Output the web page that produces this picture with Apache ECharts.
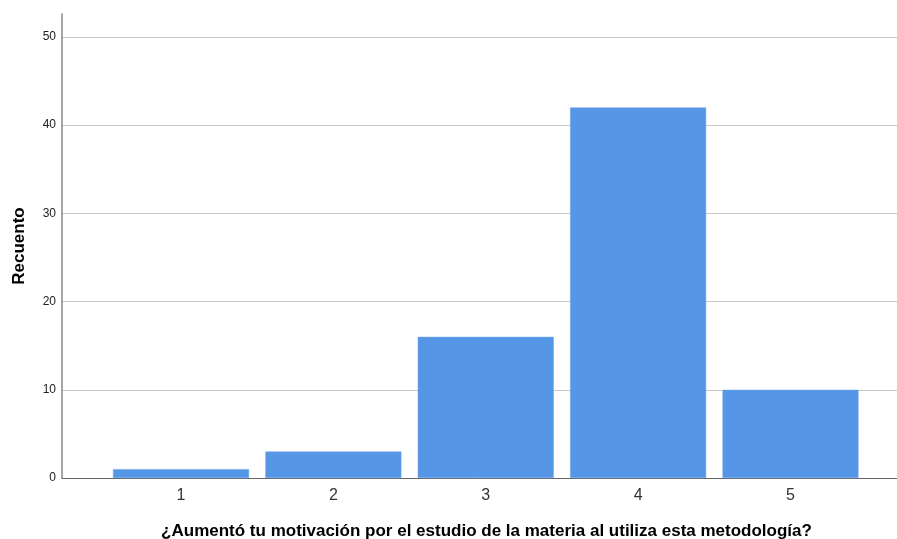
<!DOCTYPE html>
<html>
<head>
<meta charset="utf-8">
<script src="https://cdn.jsdelivr.net/npm/echarts@6/dist/echarts.min.js"></script>
<style>html,body{margin:0;padding:0;background:#fff;}#c{width:897px;height:539px;}</style>
</head>
<body>
<div id="c"></div>
<script>
const categories = [1, 2, 3, 4, 5];
const counts = [1, 3, 16, 42, 10];
const yTicks = [0, 10, 20, 30, 40, 50];
const xTitle = '¿Aumentó tu motivación por el estudio de la materia al utiliza esta metodología?';
const yTitle = 'Recuento';

const chart = echarts.init(document.getElementById('c'), null, {renderer: 'canvas'});
chart.setOption({
  animation: false,
  grid: {left: 62, right: 0, top: 14, bottom: 61, containLabel: false, outerBoundsMode: 'none'},
  xAxis: {
    type: 'value', min: 0.219, max: 5.699,
    name: xTitle, nameLocation: 'middle', nameGap: 45,
    nameTextStyle: {fontFamily: 'Arial, Liberation Sans', fontWeight: 'bold', fontSize: 17, color: '#000', padding: [0, 0, 0, 14]},
    axisLine: {show: true, lineStyle: {color: '#666', width: 1}},
    axisTick: {show: false, customValues: categories},
    axisLabel: {customValues: categories, fontFamily: 'Arial, Liberation Sans', fontSize: 16, color: '#333', margin: 10},
    splitLine: {show: false}
  },
  yAxis: {
    type: 'value', min: 0, max: 52.6,
    name: yTitle, nameLocation: 'middle', nameGap: 34, nameRotate: 90,
    nameTextStyle: {fontFamily: 'Arial, Liberation Sans', fontWeight: 'bold', fontSize: 17, color: '#000'},
    axisLine: {show: true, lineStyle: {color: '#888', width: 1.5}},
    axisTick: {show: false, customValues: yTicks},
    axisLabel: {customValues: yTicks, fontFamily: 'Arial, Liberation Sans', fontSize: 12, color: '#222', margin: 6},
    splitLine: {show: true, lineStyle: {color: '#c8c8c8', width: 1}}
  },
  series: [{
    type: 'bar',
    data: categories.map((c, i) => [c, counts[i]]),
    barWidth: 136,
    itemStyle: {color: '#5596e6', borderColor: '#6aa4ea', borderWidth: 0.5}
  }]
});
</script>
</body>
</html>
